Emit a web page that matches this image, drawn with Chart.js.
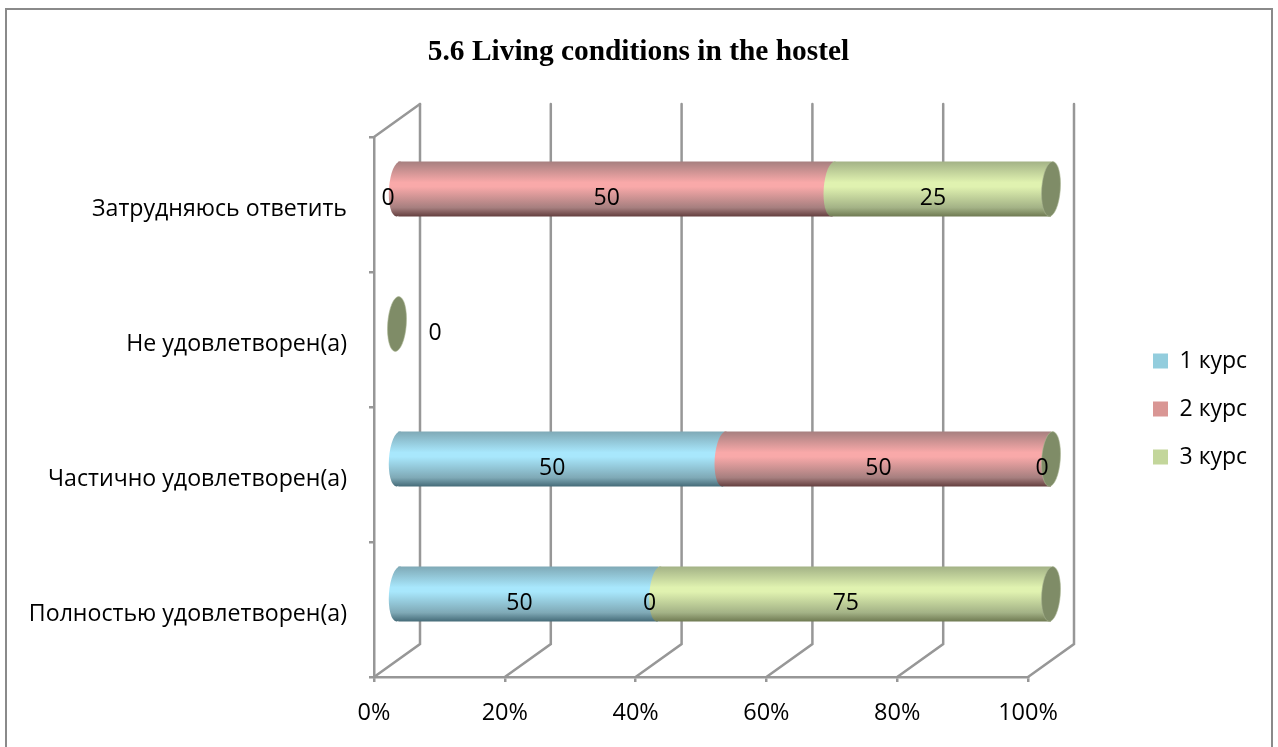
<!DOCTYPE html>
<html><head><meta charset="utf-8">
<style>html,body{margin:0;padding:0;background:#fff}#wrap{width:1278px;height:747px}canvas{display:block}</style>
<script src="https://cdn.jsdelivr.net/npm/chart.js@4"></script>
</head><body><div id="wrap"><canvas id="c" width="1278" height="747"></canvas></div>
<script>
const titleText = '5.6 Living conditions in the hostel';
const categories = ['Затрудняюсь ответить','Не удовлетворен(а)','Частично удовлетворен(а)','Полностью удовлетворен(а)'];
const seriesNames = ['1 курс','2 курс','3 курс'];
const course1 = [0,0,50,50];
const course2 = [50,0,50,0];
const course3 = [25,0,0,75];
const legendColors = ['#93CDDD','#D99694','#C3D69B'];
const midColors = ['#A8E7FC','#F9A9A9','#E0F2B0'];
const edgeColors = ['#7FA9B6','#A67F7F','#A3B286'];
const darkColors = ['#456B78','#643F3F','#6F7A52'];
const capColor = '#7F8C67';
const axisColor = '#979797';
const labelFont = '"Open Sans"';
const rows = [course1,course2,course3];
const totals = categories.map((_,i)=>rows.reduce((s,r)=>s+r[i],0));
const share = r => r.map((v,i)=>totals[i]?v/totals[i]*100:0);

const DX=46, DY=-33, BX=23, BY=-15.5, RX=9.3, TILT=0.07;

function cylinderFill(chart,ds,i){
  const s=chart.scales.y; if(!s) return legendColors[ds];
  const c=s.getPixelForValue(i), h=27.5;
  if(!Number.isFinite(c)) return legendColors[ds];
  const g=chart.ctx.createLinearGradient(0,c-h,0,c+h);
  g.addColorStop(0,edgeColors[ds]);
  g.addColorStop(0.38,midColors[ds]);
  g.addColorStop(0.46,midColors[ds]);
  g.addColorStop(0.84,edgeColors[ds]);
  g.addColorStop(1,darkColors[ds]);
  return g;
}
const cylinder3d={
  id:'cylinder3d',
  beforeDraw(chart){
    const c=chart.ctx; c.save();
    c.fillStyle='#fff'; c.fillRect(0,0,1278,747);
    c.strokeStyle='#8A8A8A'; c.lineWidth=2;
    c.strokeRect(6,9,1266,744);
    c.restore();
  },
  afterLayout(chart){
    const l=chart.legend;
    if(l){
      const w=l.right-l.left,h=l.bottom-l.top;
      l.left=1128; l.right=1128+w; l.top=409-h/2; l.bottom=409+h/2;
    }
    const t=chart.titleBlock;
    if(t){ t.left=0; t.right=1277; }
  },
  beforeDatasetsDraw(chart){
    const c=chart.ctx,x=chart.scales.x,a=chart.chartArea;
    c.save(); c.strokeStyle=axisColor; c.lineWidth=2.5; c.lineCap='round';
    x.ticks.forEach(t=>{
      const p=x.getPixelForValue(t.value);
      c.beginPath(); c.moveTo(p,a.bottom); c.lineTo(p+DX,a.bottom+DY); c.lineTo(p+DX,a.top+DY); c.stroke();
    });
    c.beginPath(); c.moveTo(a.left,a.top); c.lineTo(a.left+DX,a.top+DY); c.stroke();
    c.restore();
    c.save(); c.translate(BX,BY);
  },
  afterDatasetsDraw(chart){
    const c=chart.ctx;
    categories.forEach((_,i)=>{
      rows.forEach((r,ds)=>{
        const b=chart.getDatasetMeta(ds).data[i];
        if(r[i]===0) return;
        c.fillStyle=cylinderFill(chart,ds,i);
        c.beginPath(); c.ellipse(Math.min(b.x,b.base),b.y,RX,27.5,TILT,0,Math.PI*2); c.fill();
      });
      const b=chart.getDatasetMeta(rows.length-1).data[i];
      c.fillStyle=capColor; c.strokeStyle='#A9B592'; c.lineWidth=0.6;
      c.beginPath(); c.ellipse(b.x,b.y,RX,27.5,TILT,0,Math.PI*2); c.fill(); c.stroke();
    });
    c.restore();
    // value labels
    c.save();
    c.fillStyle='#000'; c.font='23px '+labelFont; c.textAlign='center'; c.textBaseline='middle';
    categories.forEach((_,i)=>{
      if(totals[i]===0){
        const b=chart.getDatasetMeta(0).data[i];
        c.fillText('0',b.base+BX+38,b.y+BY+9);
        return;
      }
      rows.forEach((r,ds)=>{
        const b=chart.getDatasetMeta(ds).data[i];
        c.fillText(String(r[i]),(b.x+b.base)/2+BX-9,b.y+BY+9);
      });
    });
    c.restore();
  }
};
const datasets=seriesNames.map((n,ds)=>({
  label:n,
  data:share(rows[ds]),
  backgroundColor:(ctx)=>cylinderFill(ctx.chart,ds,ctx.dataIndex),
  borderWidth:0,
  barPercentage:0.407,
  categoryPercentage:1,
  clip:false
}));
const chart=new Chart(document.getElementById('c'),{
  type:'bar',
  data:{labels:categories,datasets},
  plugins:[cylinder3d],
  options:{
    indexAxis:'y',responsive:false,animation:false,
    layout:{padding:{left:0,right:120,top:0,bottom:0}},
    scales:{
      x:{stacked:true,min:0,max:100,
        grid:{drawOnChartArea:false,drawTicks:true,tickLength:5,color:axisColor,lineWidth:2.5},
        border:{color:axisColor,width:2.5},
        ticks:{stepSize:20,maxRotation:0,color:'#000',font:{family:labelFont,size:23.5},padding:17,callback:v=>v+'%'},
        afterFit(s){s.height=70;}
      },
      y:{stacked:true,offset:true,
        grid:{offset:true,drawOnChartArea:false,drawTicks:true,tickLength:5,color:axisColor,lineWidth:2.5},
        border:{color:axisColor,width:2.5},
        ticks:{color:'#000',font:{family:labelFont,size:23.15},padding:22,labelOffset:5},
        afterFit(s){s.width=374;}
      }
    },
    plugins:{
      title:{display:true,text:titleText,color:'#000',font:{family:'"Liberation Serif"',size:29.4,weight:'bold',lineHeight:1.2},padding:{top:35,bottom:66.7}},
      legend:{position:'right',
        labels:{boxWidth:15,boxHeight:15,padding:25,color:'#000',font:{family:labelFont,size:23},
          generateLabels(ch){
            return Chart.defaults.plugins.legend.labels.generateLabels(ch).map((it,i)=>({...it,fillStyle:legendColors[i],strokeStyle:legendColors[i],lineWidth:0}));
          }}},
      tooltip:{enabled:false}
    }
  }
});
const off=chart.chartArea.right-1028;
chart.options.layout.padding.right+=off;
chart.update('none');
</script></body></html>
